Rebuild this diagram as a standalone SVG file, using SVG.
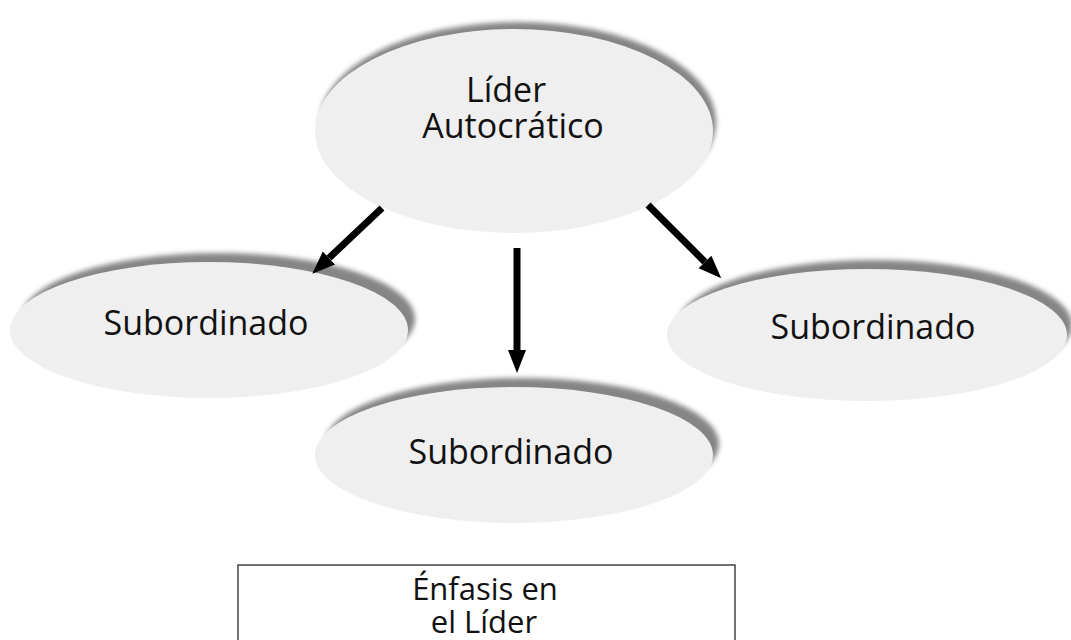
<svg xmlns="http://www.w3.org/2000/svg" width="1071" height="640" viewBox="0 0 1071 640">
<style>
.shadow{fill:#858585;filter:url(#blur)}
.fill{fill:#efefef}
.lbl{font-family:"Open Sans","Liberation Sans",sans-serif;font-size:34px;fill:#111;text-anchor:middle}
.box{font-size:31px}
.arrow{stroke:#000;stroke-width:7;fill:none;marker-end:url(#head)}
</style>
<defs>
<filter id="blur" x="-10%" y="-20%" width="120%" height="140%"><feGaussianBlur stdDeviation="2.5"/></filter>
<marker id="head" markerUnits="userSpaceOnUse" markerWidth="24" markerHeight="22" refX="0" refY="10" orient="auto" viewBox="0 0 24 20">
<path d="M0,1 L23,10 L0,19 z" fill="#000"/>
</marker>
</defs>
<rect width="1071" height="640" fill="#fff"/>
<g id="lider">
<ellipse class="shadow" cx="518" cy="122" rx="198" ry="100"/>
<ellipse class="fill" cx="514" cy="131" rx="199" ry="102"/>
<text class="lbl" x="506" y="102">Líder</text>
<text class="lbl" x="513" y="138">Autocrático</text>
</g>
<g id="sub-left">
<ellipse class="shadow" cx="218" cy="319" rx="197" ry="66"/>
<ellipse class="fill" cx="209" cy="330" rx="199" ry="68"/>
<text class="lbl" x="206" y="335">Subordinado</text>
</g>
<g id="sub-right">
<ellipse class="shadow" cx="875" cy="325" rx="197" ry="65"/>
<ellipse class="fill" cx="867" cy="335" rx="200" ry="66"/>
<text class="lbl" x="873" y="339">Subordinado</text>
</g>
<g id="sub-bottom">
<ellipse class="shadow" cx="522" cy="444" rx="197" ry="66"/>
<ellipse class="fill" cx="514" cy="455" rx="199" ry="68"/>
<text class="lbl" x="511" y="464">Subordinado</text>
</g>
<g id="connectors">
<line class="arrow" x1="382" y1="208" x2="329" y2="258"/>
<line class="arrow" x1="517" y1="248" x2="517" y2="350"/>
<line class="arrow" x1="648" y1="205" x2="705" y2="262"/>
</g>
<g id="enfasis">
<rect x="238" y="565" width="497" height="90" fill="#fff" stroke="#444" stroke-width="1.5"/>
<text class="lbl box" x="485" y="600">Énfasis en</text>
<text class="lbl box" x="484" y="633">el Líder</text>
</g>
</svg>
